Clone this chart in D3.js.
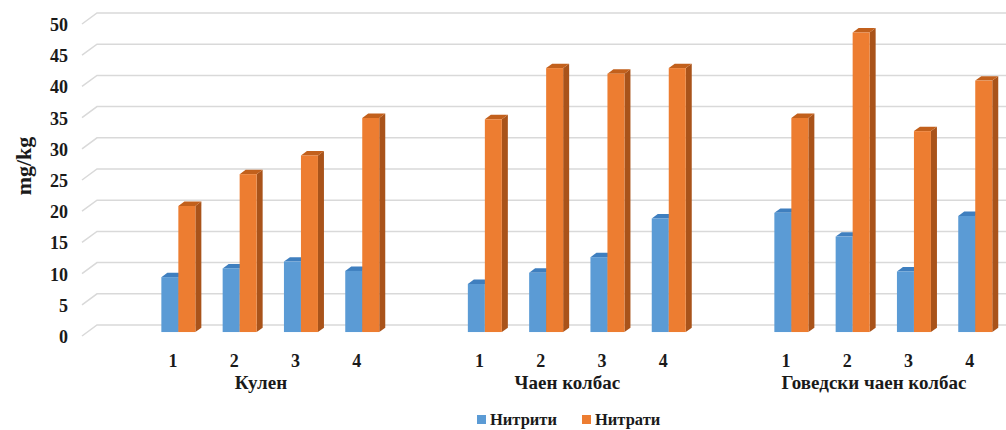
<!DOCTYPE html>
<html>
<head>
<meta charset="utf-8">
<script src="https://cdn.jsdelivr.net/npm/d3@7"></script>
<style>
  html, body { margin: 0; padding: 0; background: #fff; }
  svg { display: block; }
</style>
</head>
<body>
<svg id="chart" width="1006" height="430"></svg>
<script>
// Nitrite and nitrate content (mg/kg) in three sausage types, samples 1–4
const groups = ["Кулен", "Чаен колбас", "Говедски чаен колбас"];
const samples = ["1", "2", "3", "4"];
const seriesNames = ["Нитрити", "Нитрати"];
const nitrites = [
  [8.8, 10.2, 11.3, 9.8],
  [7.7, 9.5, 12.0, 18.2],
  [19.1, 15.3, 9.7, 18.6]
];
const nitrates = [
  [20.2, 25.3, 28.3, 34.3],
  [34.1, 42.3, 41.4, 42.3],
  [34.3, 48.0, 32.2, 40.3]
];
const yTicks = [0, 5, 10, 15, 20, 25, 30, 35, 40, 45, 50];
const yTitle = "mg/kg";

const FONT = "Liberation Serif";

const colors = {
  "Нитрити": { front: "#5b9bd5", top: "#3f7fbf", side: "#3a6ea5" },
  "Нитрати": { front: "#ed7d31", top: "#c2601c", side: "#a9531a" }
};

const svg = d3.select("#chart");

// text helper: bold serif labels
function label(parent, size) {
  return parent.append("text")
    .attr("font-family", FONT)
    .attr("font-weight", "bold")
    .attr("font-size", size)
    .attr("fill", "#1a1a1a");
}

// Oblique 3D projection: full depth moves a point right and up
const depthDX = 15, depthDY = -11;
const barDepth0 = 0.36, barDepth1 = 0.76;

// slots: one empty slot before each group, then the four samples
const slots = [];
groups.forEach((g, gi) => {
  slots.push("gap" + gi);
  samples.forEach(s => slots.push(g + "|" + s));
});

const x = d3.scaleBand().domain(slots).range([81, 1000.5]).padding(0);
const y = d3.scaleLinear().domain([0, 50]).range([336, 24]); // front plane

const shift = d => [depthDX * d, depthDY * d];

// back-wall gridlines with their diagonal side-wall segment
const gridG = svg.append("g");
const [bx, by] = shift(1);
yTicks.forEach(t => {
  const yf = y(t);
  gridG.append("path")
    .attr("d", `M82,${yf} L${82 + bx},${yf + by} L1006,${yf + by}`)
    .attr("fill", "none")
    .attr("stroke", "#d9d9d9")
    .attr("stroke-width", 1.5);
});

// y tick labels
const yLab = svg.append("g");
yTicks.forEach(t => {
  label(yLab, 18)
    .attr("x", 68)
    .attr("y", y(t) + 1)
    .attr("text-anchor", "end")
    .attr("dominant-baseline", "central")
    .text(t);
});

// y axis title
label(svg, 22)
  .attr("transform", "translate(31,166) rotate(-90)")
  .attr("text-anchor", "middle")
  .text(yTitle);

// bars
const [fdx, fdy] = shift(barDepth0);
const [tdx, tdy] = [depthDX * (barDepth1 - barDepth0), depthDY * (barDepth1 - barDepth0)];
const barW = 17;

const barsData = [];
groups.forEach((g, gi) => {
  samples.forEach((s, si) => {
    const c = x(g + "|" + s) + x.bandwidth() / 2;
    [nitrites[gi][si], nitrates[gi][si]].forEach((v, k) => {
      barsData.push({ series: seriesNames[k], value: v, x0: c + fdx - barW + k * barW });
    });
  });
});

const barG = svg.append("g");
barsData.forEach(d => {
  const col = colors[d.series];
  const x0 = d.x0, x1 = d.x0 + barW;
  const yTop = y(d.value) + fdy, yBot = y(0) + fdy;
  const g = barG.append("g");
  // side face
  g.append("path")
    .attr("d", `M${x1},${yTop} L${x1 + tdx},${yTop + tdy} L${x1 + tdx},${yBot + tdy} L${x1},${yBot} Z`)
    .attr("fill", col.side);
  // top face
  g.append("path")
    .attr("d", `M${x0},${yTop} L${x0 + tdx},${yTop + tdy} L${x1 + tdx},${yTop + tdy} L${x1},${yTop} Z`)
    .attr("fill", col.top);
  // front face
  g.append("rect")
    .attr("x", x0).attr("y", yTop)
    .attr("width", barW).attr("height", yBot - yTop)
    .attr("fill", col.front);
});

// sample labels and group labels
const labG = svg.append("g");
groups.forEach((g, gi) => {
  samples.forEach(s => {
    label(labG, 18)
      .attr("x", x(g + "|" + s) + x.bandwidth() / 2)
      .attr("y", 367)
      .attr("text-anchor", "middle")
      .text(s);
  });
  const first = x(g + "|" + samples[0]) + x.bandwidth() / 2;
  const last = x(g + "|" + samples[samples.length - 1]) + x.bandwidth() / 2;
  label(labG, 19)
    .attr("x", (first + last) / 2 - 4)
    .attr("y", 389)
    .attr("text-anchor", "middle")
    .text(g);
});

// legend
const legend = svg.append("g");
const legendItems = [
  { name: seriesNames[0], x: 477 },
  { name: seriesNames[1], x: 582 }
];
legendItems.forEach(it => {
  legend.append("rect")
    .attr("x", it.x).attr("y", 415)
    .attr("width", 9).attr("height", 9)
    .attr("fill", colors[it.name].front);
  label(legend, 16.5)
    .attr("x", it.x + 13).attr("y", 425)
    .text(it.name);
});
</script>
</body>
</html>
